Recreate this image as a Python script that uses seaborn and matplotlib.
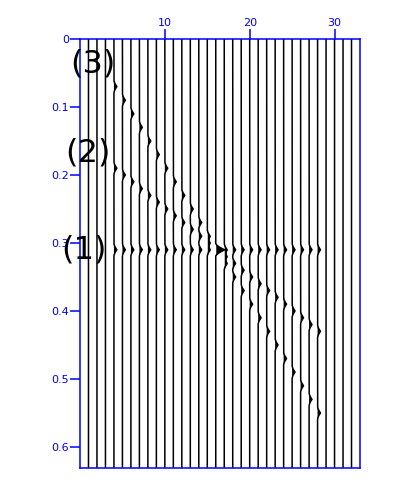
import numpy as np
import pandas as pd
import matplotlib
matplotlib.use("Agg")
import matplotlib.pyplot as plt
import seaborn as sns

# ---- data ----
traces = list(range(1, 33))                     # trace numbers drawn
event_traces = list(range(4, 29))               # traces that carry events
# arrival (peak) times per trace for each event, seconds
t_event1 = [0.31] * 25                          # flat event (1)
t_event2 = [0.19, 0.20, 0.21, 0.22, 0.23, 0.24, 0.25, 0.26, 0.27, 0.28,
            0.29, 0.30, 0.31, 0.32, 0.33, 0.34, 0.35, 0.36, 0.37, 0.38,
            0.39, 0.40, 0.41, 0.42, 0.43]       # dipping event (2)
t_event3 = [0.07, 0.09, 0.11, 0.13, 0.15, 0.17, 0.19, 0.21, 0.23, 0.25,
            0.27, 0.29, 0.31, 0.33, 0.35, 0.37, 0.39, 0.41, 0.43, 0.45,
            0.47, 0.49, 0.51, 0.53, 0.55]       # steep event (3)
event_labels = ["(1)", "(2)", "(3)"]
label_pos_trace = [0.45, 0.9, 1.5]
label_pos_time = [0.31, 0.168, 0.037]
# wavelet samples (offset in s, amplitude)
wav_dt = [-0.009, -0.0065, -0.004, -0.002, 0.0, 0.002, 0.004, 0.0065, 0.009]
wav_amp = [0.0, 0.15, 0.4, 0.7, 1.0, 0.7, 0.4, 0.15, 0.0]
xticks = [10, 20, 30]
yticks = [0, 0.1, 0.2, 0.3, 0.4, 0.5, 0.6]
ytick_labels = ["0", "0.1", "0.2", "0.3", "0.4", "0.5", "0.6"]

t_max = 0.631
gain = 0.34
t = np.arange(0.0, t_max + 1e-9, 0.0005)

rows = []
for k in traces:
    sig = np.zeros_like(t)
    if k in event_traces:
        i = event_traces.index(k)
        for ev in (t_event1, t_event2, t_event3):
            sig += np.interp(t - ev[i], wav_dt, wav_amp, left=0, right=0)
    rows.append(pd.DataFrame({"trace": k, "t": t, "sig": sig,
                              "x": k + gain * sig}))
df = pd.concat(rows, ignore_index=True)

sns.set_style("white")
fig = plt.figure(figsize=(4, 5), dpi=100)
ax = fig.add_axes([0.2, 0.064, 0.7, 0.858])

sns.lineplot(data=df, x="x", y="t", units="trace", estimator=None,
             sort=False, color="black", lw=1.1, ax=ax, legend=False)
for k, g in df.groupby("trace"):
    ax.fill_betweenx(g["t"], k, g["x"], where=g["sig"] > 0,
                     color="black", lw=0, interpolate=True)

ax.set_xlim(0, 33)
ax.set_ylim(t_max, 0)
ax.set_xlabel("")
ax.set_ylabel("")
blue = "#0000ff"
for s in ax.spines.values():
    s.set_color(blue)
    s.set_linewidth(1.1)
ax.xaxis.tick_top()
ax.set_xticks(xticks)
ax.set_xticklabels([str(v) for v in xticks])
ax.set_yticks(yticks)
ax.set_yticklabels(ytick_labels)
ax.tick_params(axis="both", colors=blue, labelcolor=blue, labelsize=8,
               length=7, width=1.1, direction="out", pad=1,
               left=True, top=True, bottom=False, right=False)

for lab, xp, yp in zip(event_labels, label_pos_trace, label_pos_time):
    ax.text(xp, yp, lab, fontsize=23, color="black", ha="center",
            va="center", clip_on=False)

fig.savefig("out.png", dpi=100)
